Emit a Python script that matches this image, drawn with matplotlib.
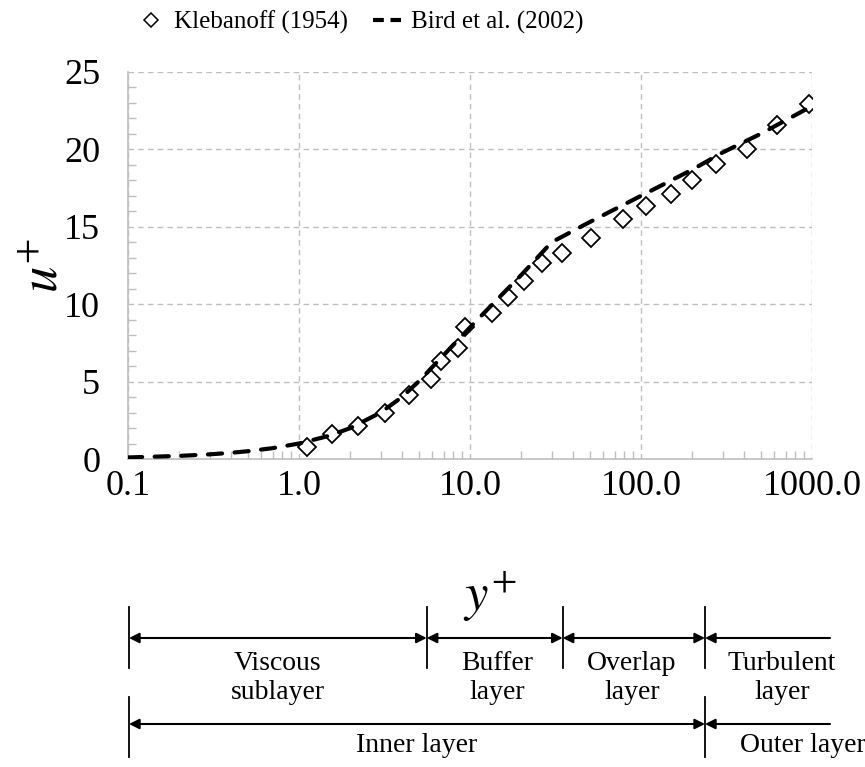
import matplotlib
matplotlib.use("Agg")
import matplotlib.pyplot as plt
import numpy as np
from matplotlib.lines import Line2D
from matplotlib.ticker import FixedLocator, MultipleLocator, LogLocator, NullFormatter

plt.rcParams['font.family'] = ['Liberation Serif', 'DejaVu Serif']
plt.rcParams['mathtext.fontset'] = 'stix'

# Klebanoff (1954) measurements
kleb_y = [1.12, 1.57, 2.2, 3.2, 4.4, 5.9, 6.8, 8.5, 9.4, 13.5, 16.6, 20.7, 26.2, 34.6,
          51, 79, 107, 149, 198, 273, 415, 621, 964]
kleb_u = [0.8, 1.6, 2.15, 2.95, 4.15, 5.2, 6.35, 7.2, 8.5, 9.4, 10.45, 11.5, 12.65, 13.3,
          14.3, 15.5, 16.35, 17.15, 18.0, 19.05, 20.0, 21.55, 22.95]

# Bird et al. (2002) profile
bird_y = [0.1, 0.2, 0.3, 0.4, 0.5, 0.7, 1.0, 1.5, 2.0, 3.0, 4.0, 5.0, 7.0, 10.0, 15.0,
          20.0, 30.0, 50.0, 100.0, 200.0, 300.0, 500.0, 1000.0]
bird_u = [0.1, 0.2, 0.3, 0.4, 0.5, 0.7, 1.0, 1.5, 2.0, 3.0, 4.0, 5.0, 6.7, 8.5, 10.5,
          11.9, 14.0, 15.3, 17.0, 18.7, 19.8, 21.0, 22.8]

x_ticks = [0.1, 1.0, 10.0, 100.0, 1000.0]
x_labels = ["0.1", "1.0", "10.0", "100.0", "1000.0"]
y_ticks = [0, 5, 10, 15, 20, 25]

W, H = 865, 767
fig = plt.figure(figsize=(W / 100, H / 100), dpi=100)
ax = fig.add_axes([128 / W, 1 - 459 / H, (812 - 128) / W, (459 - 72) / H])

ax.plot(kleb_y, kleb_u, linestyle='none', marker='D', markersize=9,
        markerfacecolor='white', markeredgecolor='black', markeredgewidth=1.3, zorder=3)
ax.plot(bird_y, bird_u, color='black', lw=3, linestyle=(0, (3.4, 3.0)),
        dash_capstyle='round', zorder=4)

ax.set_xscale('log')
ax.set_xlim(0.1, 1000)
ax.set_ylim(0, 25)
ax.xaxis.set_major_locator(FixedLocator(x_ticks))
ax.set_xticklabels(x_labels)
ax.xaxis.set_minor_locator(LogLocator(base=10, subs=np.arange(2, 10)))
ax.xaxis.set_minor_formatter(NullFormatter())
ax.set_yticks(y_ticks)
ax.yaxis.set_minor_locator(MultipleLocator(1))

gc = '#bfbfbf'
ax.grid(True, which='major', color=gc, linestyle=(0, (4, 3)), lw=1)
for s in ['top', 'right']:
    ax.spines[s].set_visible(False)
for s in ['left', 'bottom']:
    ax.spines[s].set_color(gc)
    ax.spines[s].set_linewidth(1.2)
ax.tick_params(which='major', length=0, labelsize=26)
ax.tick_params(axis='y', which='major', pad=20)
ax.tick_params(axis='x', which='major', pad=8)
ax.tick_params(which='minor', direction='in', length=6, color=gc, width=1)

fig.text(45 / W, 1 - 265 / H, r'$u^{+}$', fontsize=38, rotation=90, ha='center', va='center')
fig.text(490 / W, 1 - 596 / H, r'$y^{+}$', fontsize=38, ha='center', va='center')

# legend
handles = [Line2D([], [], linestyle='none', marker='D', markersize=7, markerfacecolor='white',
                  markeredgecolor='black', markeredgewidth=1.1),
           Line2D([], [], color='black', lw=3, linestyle=(0, (2.6, 1.6)))]
fig.legend(handles, ['Klebanoff (1954)', 'Bird et al. (2002)'], loc='center',
           bbox_to_anchor=(360 / W, 1 - 22 / H), ncol=2, frameon=False, fontsize=18,
           handlelength=1.1, handletextpad=0.4, columnspacing=1.0)

# layer annotations below the axis
def fx(px):
    return px / W

def fy(py):
    return 1 - py / H

for px in [129, 426.7, 562.7, 705]:
    fig.add_artist(Line2D([fx(px), fx(px)], [fy(607), fy(668)], color='black', lw=1.3))
for px in [129, 705]:
    fig.add_artist(Line2D([fx(px), fx(px)], [fy(697), fy(757)], color='black', lw=1.3))

arrow_rows = [
    (638, 129, 426.7, '<|-|>'), (638, 426.7, 562.7, '<|-|>'), (638, 562.7, 705, '<|-|>'),
    (638, 705, 830, '<|-'), (724, 129, 705, '<|-|>'), (724, 705, 830, '<|-'),
]
for py, x0, x1, style in arrow_rows:
    fig.add_artist(matplotlib.patches.FancyArrowPatch(
        (fx(x0), fy(py)), (fx(x1), fy(py)), transform=fig.transFigure,
        arrowstyle=style + ',head_length=6,head_width=3', color='black', lw=1.5,
        shrinkA=0, shrinkB=0, mutation_scale=1))

layer_text = [(278, 'Viscous\nsublayer'), (497, 'Buffer\nlayer'), (632, 'Overlap\nlayer'),
              (782, 'Turbulent\nlayer')]
for px, t in layer_text:
    fig.text(fx(px), fy(678), t, ha='center', va='center', fontsize=20, linespacing=1.25)
fig.text(fx(417), fy(746), 'Inner layer', ha='center', va='center', fontsize=20)
fig.text(fx(803), fy(746), 'Outer layer', ha='center', va='center', fontsize=20)

fig.savefig('out.png', dpi=100)
